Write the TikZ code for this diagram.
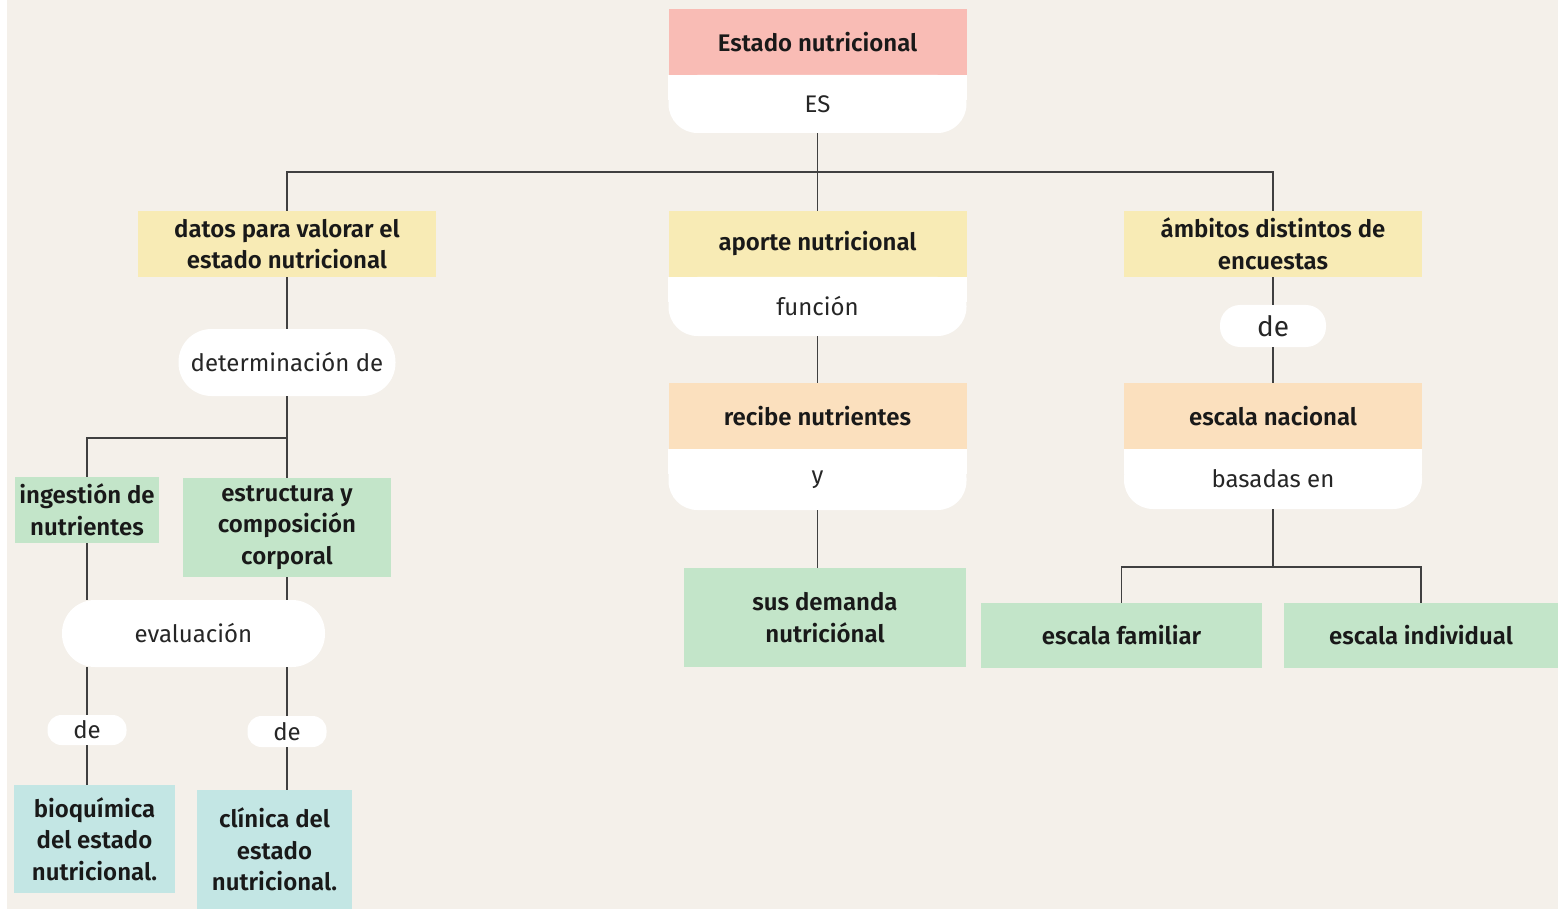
\documentclass[tikz,border=0pt]{standalone}
\usepackage{fontspec}
\setmainfont{Fira Sans}[BoldFont={Fira Sans SemiBold}]
\usetikzlibrary{backgrounds}
\definecolor{paper}{HTML}{F4F0EA}
\definecolor{rosa}{HTML}{F9BCB5}
\definecolor{amarillo}{HTML}{F8EBB5}
\definecolor{naranja}{HTML}{FBE0BE}
\definecolor{verde}{HTML}{C3E5C9}
\definecolor{celeste}{HTML}{C3E6E4}
\tikzset{
  box/.style={inner sep=0pt,align=center,text=black!90,
    font=\fontsize{24}{31.5}\selectfont\bfseries},
  sub/.style={fill=white,rounded corners=29pt,inner sep=0pt,text=black!85,
    minimum width=298pt,font=\fontsize{24}{31.5}\selectfont},
  pill/.style={fill=white,rounded corners=#1,inner sep=0pt,text=black!85,
    font=\fontsize{24}{31.5}\selectfont},
  link/.style={draw=black!75,line width=1.6pt},
}
\begin{document}
\begin{tikzpicture}[x=1pt,y=-1pt]
\useasboundingbox (0,0) rectangle (1558,909);
% centre column
\node[box,fill=rosa,minimum width=298,minimum height=66] (est) at (817.5,42) {Estado nutricional};
\node[sub,minimum height=58] (es) at (817.5,104) {ES};
\node[box,fill=amarillo,minimum width=298,minimum height=66] (aporte) at (817.5,244) {aporte nutricional};
\node[sub,minimum height=59] (func) at (817.5,306.5) {función};
\node[box,fill=naranja,minimum width=298,minimum height=66] (recibe) at (817.5,416) {recibe nutrientes};
\node[sub,minimum height=61] (yy) at (817.5,479.5) {y};
\node[box,fill=verde,minimum width=282,minimum height=99] (sus) at (825,617.5) {sus demanda\\nutriciónal};
% left column
\node[box,fill=amarillo,minimum width=298,minimum height=66] (datos) at (287,244) {datos para valorar el\\estado nutricional};
\node[pill=33pt,minimum width=217,minimum height=67] (det) at (287,362.5) {determinación de};
\node[box,fill=verde,minimum width=144,minimum height=66] (ing) at (87,510) {ingestión de\\nutrientes};
\node[box,fill=verde,minimum width=208,minimum height=99] (estr) at (287,527.5) {estructura y\\composición\\corporal};
\node[pill=33pt,minimum width=263,minimum height=67] (eval) at (193.5,633.5) {evaluación};
\node[pill=14pt,minimum width=79,minimum height=30] (de1) at (87,730) {de};
\node[pill=14pt,minimum width=79,minimum height=31] (de2) at (287,731.5) {de};
\node[box,fill=celeste,minimum width=161,minimum height=108] (bio) at (94.5,839) {bioquímica\\del estado\\nutricional.};
\node[box,fill=celeste,minimum width=155,minimum height=119] (clin) at (274.5,849.5) {clínica del\\estado\\nutricional.};
% right column
\node[box,fill=amarillo,minimum width=298,minimum height=66] (ambitos) at (1273,244) {ámbitos distintos de\\encuestas};
\node[pill=20pt,minimum width=106,minimum height=42,font=\fontsize{28}{31}\selectfont] (de3) at (1273,326) {de};
\node[box,fill=naranja,minimum width=298,minimum height=66] (escnac) at (1273,416) {escala nacional};
\node[sub,minimum height=60] (bas) at (1273,479) {basadas en};
\node[box,fill=verde,minimum width=281,minimum height=65] (fam) at (1121.5,635.5) {escala familiar};
\node[box,fill=verde,minimum width=274,minimum height=65] (ind) at (1421,635.5) {escala individual};
% square top corners of the white parts
\begin{scope}[on background layer]
\fill[paper] (7,0) rectangle (1558,909);
\foreach \n in {es,func,yy,bas}
  \fill[white] (\n.north west) rectangle ([yshift=-25pt]\n.north east);
\end{scope}
% connectors
\coordinate (top) at (817.5,172);
\coordinate (split1) at (287,438);
\coordinate (split2) at (1273,567);
\draw[link] (es) -- (aporte);
\draw[link] (datos) |- (top) -| (ambitos);
\draw[link] (func) -- (recibe);
\draw[link] (yy) -- (yy |- sus.north);
\draw[link] (datos) -- (det);
\draw[link] (det) -- (estr);
\draw[link] (split1) -| (ing);
\draw[link] (ing) -- (ing |- eval.north);
\draw[link] (estr) -- (estr |- eval.north);
\draw[link] (de1 |- eval.south) -- (de1);
\draw[link] (de2 |- eval.south) -- (de2);
\draw[link] (de1) -- (de1 |- bio.north);
\draw[link] (de2) -- (de2 |- clin.north);
\draw[link] (ambitos) -- (de3);
\draw[link] (de3) -- (escnac);
\draw[link] (bas) -- (split2);
\draw[link] (fam) |- (split2) -| (ind);
\end{tikzpicture}
\end{document}
